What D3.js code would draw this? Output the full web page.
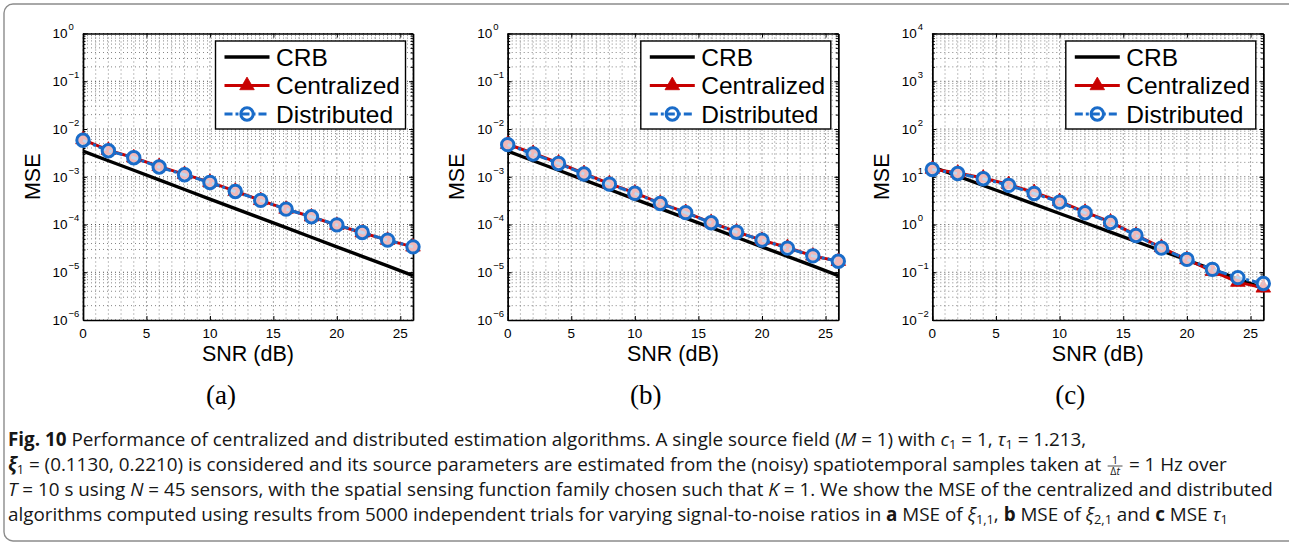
<!DOCTYPE html>
<html><head><meta charset="utf-8">
<script src="https://cdn.jsdelivr.net/npm/d3@7"></script>
<style>body{margin:0;background:#fff} svg{display:block}</style>
</head><body><svg id="c" width="1289" height="545"></svg>
<script>
// ---------- data ----------
const snr = [0,2,4,6,8,10,12,14,16,18,20,22,24,26];
const xTicks = [0,5,10,15,20,25];
const crbA  = [3.44e-3,2.17e-3,1.37e-3,8.6e-4,5.4e-4,3.4e-4,2.15e-4,1.36e-4,8.6e-5,5.4e-5,3.4e-5,2.15e-5,1.36e-5,8.5e-6];
const centA = [6.0e-3,3.6e-3,2.5e-3,1.65e-3,1.12e-3,7.7e-4,5.0e-4,3.2e-4,2.1e-4,1.45e-4,9.7e-5,6.7e-5,4.7e-5,3.4e-5];
const distA = [5.8e-3,3.5e-3,2.5e-3,1.6e-3,1.1e-3,7.6e-4,4.9e-4,3.2e-4,2.1e-4,1.45e-4,9.8e-5,6.8e-5,4.7e-5,3.4e-5];
const crbB  = [3.44e-3,2.17e-3,1.37e-3,8.6e-4,5.4e-4,3.4e-4,2.15e-4,1.36e-4,8.6e-5,5.4e-5,3.4e-5,2.15e-5,1.36e-5,8.5e-6];
const centB = [4.8e-3,3.1e-3,1.95e-3,1.17e-3,7.2e-4,4.6e-4,2.8e-4,1.8e-4,1.1e-4,7.0e-5,4.7e-5,3.3e-5,2.2e-5,1.7e-5];
const distB = [4.7e-3,3.0e-3,1.9e-3,1.14e-3,7.0e-4,4.5e-4,2.75e-4,1.77e-4,1.09e-4,6.9e-5,4.7e-5,3.2e-5,2.2e-5,1.7e-5];
const crbC  = [16.2,10.3,6.57,4.19,2.67,1.70,1.09,0.693,0.442,0.282,0.180,0.115,0.073,0.046];
const centC = [14.5,12.0,9.4,6.9,4.7,3.05,1.82,1.13,0.60,0.33,0.185,0.105,0.062,0.047];
const distC = [14.2,11.7,9.1,6.6,4.47,2.94,1.76,1.10,0.59,0.32,0.186,0.115,0.077,0.058];
const expA = [0,-1,-2,-3,-4,-5,-6];
const expB = [0,-1,-2,-3,-4,-5,-6];
const expC = [4,3,2,1,0,-1,-2];
const seriesNames = ["CRB","Centralized","Distributed"];
const panelLabels = ["(a)","(b)","(c)"];
const xLabel = "SNR (dB)";
const yLabel = "MSE";

// ---------- style / layout ----------
const RED = "#c80000", BLUE = "#1a6cc9";
const svg = d3.select("#c");
svg.append("rect").attr("x",4).attr("y",4).attr("width",1294).attr("height",537).attr("rx",9)
  .attr("fill","none").attr("stroke","#8c8c8c").attr("stroke-width",1.4);

const panels = [
  {crb:crbA, cent:centA, dist:distA, exps:expA, label:panelLabels[0], left:83,    right:413},
  {crb:crbB, cent:centB, dist:distB, exps:expB, label:panelLabels[1], left:507.7, right:838.3},
  {crb:crbC, cent:centC, dist:distC, exps:expC, label:panelLabels[2], left:932.3, right:1263.3}
];
const TOP = 33.5, BOTTOM = 320;
const AX_FONT = "'Liberation Sans', Arial, sans-serif";

panels.forEach(p => {
  const x = d3.scaleLinear().domain([snr[0], snr[snr.length-1]]).range([p.left, p.right]);
  const y = d3.scaleLog().domain([Math.pow(10, d3.min(p.exps)), Math.pow(10, d3.max(p.exps))]).range([BOTTOM, TOP]);
  const g = svg.append("g");
  const isMajorY = d => Math.abs(Math.log10(d) - Math.round(Math.log10(d))) < 1e-9;

  // grid (dotted)
  const grid = g.append("g").attr("stroke-dasharray","1,3").attr("fill","none");
  grid.selectAll("line.vx").data(x.ticks(26)).join("line")
    .attr("x1",d=>x(d)).attr("x2",d=>x(d)).attr("y1",TOP).attr("y2",BOTTOM)
    .attr("stroke", d => xTicks.includes(d) ? "#333" : "#707070").attr("stroke-width",0.85);
  grid.selectAll("line.hy").data(y.ticks()).join("line")
    .attr("x1",p.left).attr("x2",p.right).attr("y1",d=>y(d)).attr("y2",d=>y(d))
    .attr("stroke", d => isMajorY(d) ? "#333" : "#707070").attr("stroke-width",0.85);

  // axes (inward ticks, box)
  const majorY = p.exps.map(e => Math.pow(10,e));
  const styleAxis = sel => { sel.selectAll("path").attr("stroke","#000").attr("stroke-width",1.4);
                            sel.selectAll("line").attr("stroke","#000").attr("stroke-width",1); sel.selectAll("text").remove(); };
  g.append("g").attr("transform",`translate(0,${BOTTOM})`).call(d3.axisBottom(x).tickValues(xTicks).tickSize(-4).tickSizeOuter(0).tickFormat("")).call(styleAxis);
  g.append("g").attr("transform",`translate(0,${TOP})`).call(d3.axisTop(x).tickValues(xTicks).tickSize(-4).tickSizeOuter(0).tickFormat("")).call(styleAxis);
  g.append("g").attr("transform",`translate(${p.left},0)`).call(d3.axisLeft(y).tickValues(majorY).tickSize(-4).tickSizeOuter(0).tickFormat("")).call(styleAxis);
  g.append("g").attr("transform",`translate(${p.right},0)`).call(d3.axisRight(y).tickValues(majorY).tickSize(-4).tickSizeOuter(0).tickFormat("")).call(styleAxis);
  g.append("g").attr("transform",`translate(${p.left},0)`).call(d3.axisLeft(y).tickValues(y.ticks()).tickSize(-2.5).tickSizeOuter(0).tickFormat("")).call(styleAxis);
  g.append("g").attr("transform",`translate(${p.right},0)`).call(d3.axisRight(y).tickValues(y.ticks()).tickSize(-2.5).tickSizeOuter(0).tickFormat("")).call(styleAxis);

  // tick labels
  g.selectAll("text.xt").data(xTicks).join("text")
    .attr("x",d=>x(d)).attr("y",BOTTOM+17.5).attr("text-anchor","middle")
    .attr("font-family",AX_FONT).attr("font-size",13.5).text(d=>d);
  g.selectAll("text.yt").data(p.exps).join("text")
    .attr("x",p.left-30.5).attr("y",e=>y(Math.pow(10,e))+4.8)
    .attr("font-family",AX_FONT).attr("font-size",13.5)
    .each(function(e){
      const t = d3.select(this);
      t.append("tspan").text("10");
      t.append("tspan").attr("dy",-8).attr("dx",1).attr("font-size",9.5).text(e<0 ? "\u2212"+(-e) : e);
    });

  // axis labels
  g.append("text").attr("x",(p.left+p.right)/2).attr("y",360.5).attr("text-anchor","middle")
    .attr("font-family",AX_FONT).attr("font-size",21.5).text(xLabel);
  g.append("text").attr("transform",`translate(${p.left-51+7.5},${(TOP+BOTTOM)/2}) rotate(-90)`).attr("text-anchor","middle")
    .attr("font-family",AX_FONT).attr("font-size",21.5).text(yLabel);

  // series
  const line = d3.line().x((d,i)=>x(snr[i])).y(d=>y(d));
  g.append("path").attr("d",line(p.crb)).attr("fill","none").attr("stroke","#000").attr("stroke-width",3.3);
  g.append("path").attr("d",line(p.cent)).attr("fill","none").attr("stroke",RED).attr("stroke-width",3);
  const tri = d3.symbol(d3.symbolTriangle).size(92);
  g.selectAll("path.tri").data(p.cent).join("path").attr("d",tri)
    .attr("transform",(d,i)=>`translate(${x(snr[i])},${y(d)})`).attr("fill",RED).attr("stroke",RED).attr("stroke-width",0.8);
  g.append("path").attr("d",line(p.dist)).attr("fill","none").attr("stroke",BLUE).attr("stroke-width",3).attr("stroke-dasharray","8,3,3,3");
  g.selectAll("circle.dc").data(p.dist).join("circle")
    .attr("cx",(d,i)=>x(snr[i])).attr("cy",d=>y(d)).attr("r",6.2)
    .attr("fill","#fff").attr("fill-opacity",0.72).attr("stroke",BLUE).attr("stroke-width",3);

  // legend
  const lx = p.right - 7.5 - 190, ly = TOP + 7.5;
  const lg = g.append("g").attr("transform",`translate(${lx},${ly})`);
  lg.append("rect").attr("width",190).attr("height",88).attr("fill","#fff").attr("stroke","#000").attr("stroke-width",1.4);
  const rows = [16, 44.5, 73];
  seriesNames.forEach((nm,k)=>{
    const ry = rows[k];
    const col = k===0 ? "#000" : (k===1 ? RED : BLUE);
    const ln = lg.append("line").attr("x1",9).attr("x2",54).attr("y1",ry).attr("y2",ry).attr("stroke",col).attr("stroke-width",k===0?3.3:3);
    if (k===2) ln.attr("stroke-dasharray","8,3,3,3");
    if (k===1) lg.append("path").attr("d",tri).attr("transform",`translate(31.5,${ry})`).attr("fill",RED).attr("stroke",RED).attr("stroke-width",0.8);
    if (k===2) lg.append("circle").attr("cx",31.5).attr("cy",ry).attr("r",6.2).attr("fill","none").attr("stroke",BLUE).attr("stroke-width",3);
    lg.append("text").attr("x",60.5).attr("y",ry+8.6).attr("font-family",AX_FONT).attr("font-size",24.5).text(nm);
  });

  // panel label
  g.append("text").attr("x",p.left+138).attr("y",404).attr("text-anchor","middle")
    .attr("font-family","'Liberation Serif', 'Times New Roman', serif").attr("font-size",27).text(p.label);
});

// ---------- caption ----------
const CAP_FONT = "'Open Sans', 'Noto Sans', sans-serif";
const capLines = [
  [["b","Fig. 10"],["n"," Performance of centralized and distributed estimation algorithms. A single source field ("],["i","M"],["n"," = 1) with "],["i","c"],["sub","1"],["n"," = 1, "],["i","τ"],["sub","1"],["n"," = 1.213,"]],
  [["bi","ξ"],["sub","1"],["n"," = (0.1130, 0.2210) is considered and its source parameters are estimated from the (noisy) spatiotemporal samples taken at "],["frac",""],["n"," = 1 Hz over"]],
  [["i","T"],["n"," = 10 s using "],["i","N"],["n"," = 45 sensors, with the spatial sensing function family chosen such that "],["i","K"],["n"," = 1. We show the MSE of the centralized and distributed"]],
  [["n","algorithms computed using results from 5000 independent trials for varying signal-to-noise ratios in "],["b","a"],["n"," MSE of "],["i","ξ"],["sub","1,1"],["n",", "],["b","b"],["n"," MSE of "],["i","ξ"],["sub","2,1"],["n"," and "],["b","c"],["n"," MSE "],["i","τ"],["sub","1"]]
];
const capBase = [446, 471, 496, 521];
const CAP_X = 8;
const SUB_DY = 3;

function drawLine(segs, yb, fs) {
  const txt = svg.append("text").attr("x",CAP_X).attr("y",yb)
    .attr("font-family",CAP_FONT).attr("font-size",fs).attr("fill","#161616").style("white-space","pre");
  let shift = 0, fracAt = null;
  const fw = fs*0.95;
  segs.forEach(([st, t], idx) => {
    if (st === "frac") { fracAt = idx; return; }
    const ts = txt.append("tspan");
    const wantShift = st==="sub" ? SUB_DY : 0;
    if (wantShift !== shift) { ts.attr("dy", wantShift - shift); shift = wantShift; }
    if (idx > 0 && segs[idx-1][0] === "frac") ts.attr("dx", fw).classed("afterfrac", true);
    if (st==="sub") ts.attr("font-size", fs*0.68);
    if (st==="b"||st==="bi") ts.attr("font-weight","bold");
    if (st==="i"||st==="bi") ts.attr("font-style","italic");
    ts.text(t);
  });
  if (fracAt !== null) {
    const nxt = txt.select("tspan.afterfrac").node();
    const fx = nxt.getStartPositionOfChar(0).x - fw;
    const fg = svg.append("g");
    fg.append("text").attr("x",fx+fw/2).attr("y",yb-7.5).attr("text-anchor","middle").attr("font-family",CAP_FONT).attr("font-size",fs*0.56).attr("fill","#161616").text("1");
    fg.append("line").attr("x1",fx+1.5).attr("x2",fx+fw-1.5).attr("y1",yb-5).attr("y2",yb-5).attr("stroke","#222").attr("stroke-width",0.8);
    const den = fg.append("text").attr("x",fx+fw/2).attr("y",yb+4).attr("text-anchor","middle").attr("font-family",CAP_FONT).attr("font-size",fs*0.56).attr("fill","#161616");
    den.append("tspan").text("Δ"); den.append("tspan").attr("font-style","italic").text("t");
  }
  return txt;
}
// fit size so line 3 spans to the right edge seen in the figure
let fs = 17;
const probe = drawLine(capLines[2], -100, fs);
const w3 = probe.node().getComputedTextLength();
probe.remove();
fs = fs * 1265 / w3;
capLines.forEach((l,i)=>drawLine(l, capBase[i], fs));
</script></body></html>
